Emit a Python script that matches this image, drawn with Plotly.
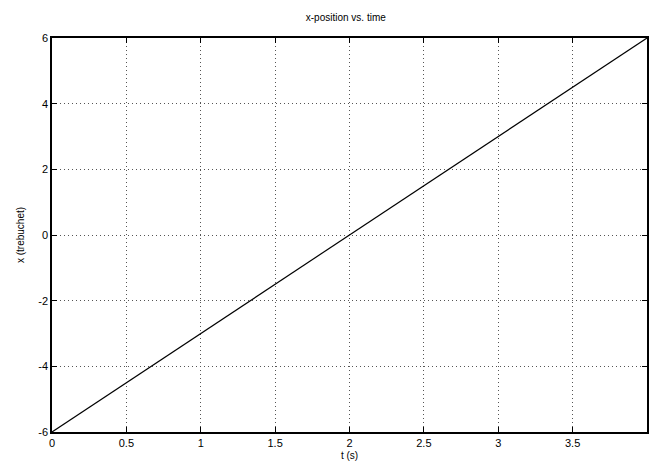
import plotly.graph_objects as go

t_vals = [0, 0.5, 1, 1.5, 2, 2.5, 3, 3.5, 4]
x_vals = [-6, -4.5, -3, -1.5, 0, 1.5, 3, 4.5, 6]
x_ticks = [0, 0.5, 1, 1.5, 2, 2.5, 3, 3.5, 4]
x_ticklabels = ["0", "0.5", "1", "1.5", "2", "2.5", "3", "3.5", "4"]
y_ticks = [-6, -4, -2, 0, 2, 4, 6]
y_ticklabels = ["-6", "-4", "-2", "0", "2", "4", "6"]

font = "Liberation Sans, Arial, sans-serif"

fig = go.Figure()
fig.add_trace(go.Scatter(x=t_vals, y=x_vals, mode="lines",
                         line=dict(color="black", width=1.2), showlegend=False))

axis_common = dict(showline=True, linecolor="black", linewidth=1.5, mirror="ticks",
                   ticks="inside", ticklen=5, tickcolor="black",
                   showgrid=True, gridcolor="#555", griddash="1px,3px", gridwidth=1,
                   zeroline=False, tickfont=dict(family=font, size=11, color="black"))

fig.update_xaxes(range=[0, 4], tickvals=x_ticks, ticktext=x_ticklabels,
                 title=dict(text="t (s)", font=dict(family=font, size=10, color="black"), standoff=4),
                 **axis_common)
fig.update_yaxes(range=[-6, 6], tickvals=y_ticks, ticktext=y_ticklabels,
                 title=dict(text="x (trebuchet)", font=dict(family=font, size=10, color="black"), standoff=12),
                 **axis_common)

fig.update_layout(
    width=650, height=468,
    margin=dict(l=52, r=1, t=38, b=36),
    paper_bgcolor="white", plot_bgcolor="white",
    title=dict(text="x-position vs. time", x=0.532, xanchor="center", y=0.963, yanchor="middle",
               font=dict(family=font, size=10, color="black")),
)

fig.write_html("out.html", config={"displayModeBar": False},
               post_script="document.body.style.margin='0';document.body.style.overflow='hidden';")
